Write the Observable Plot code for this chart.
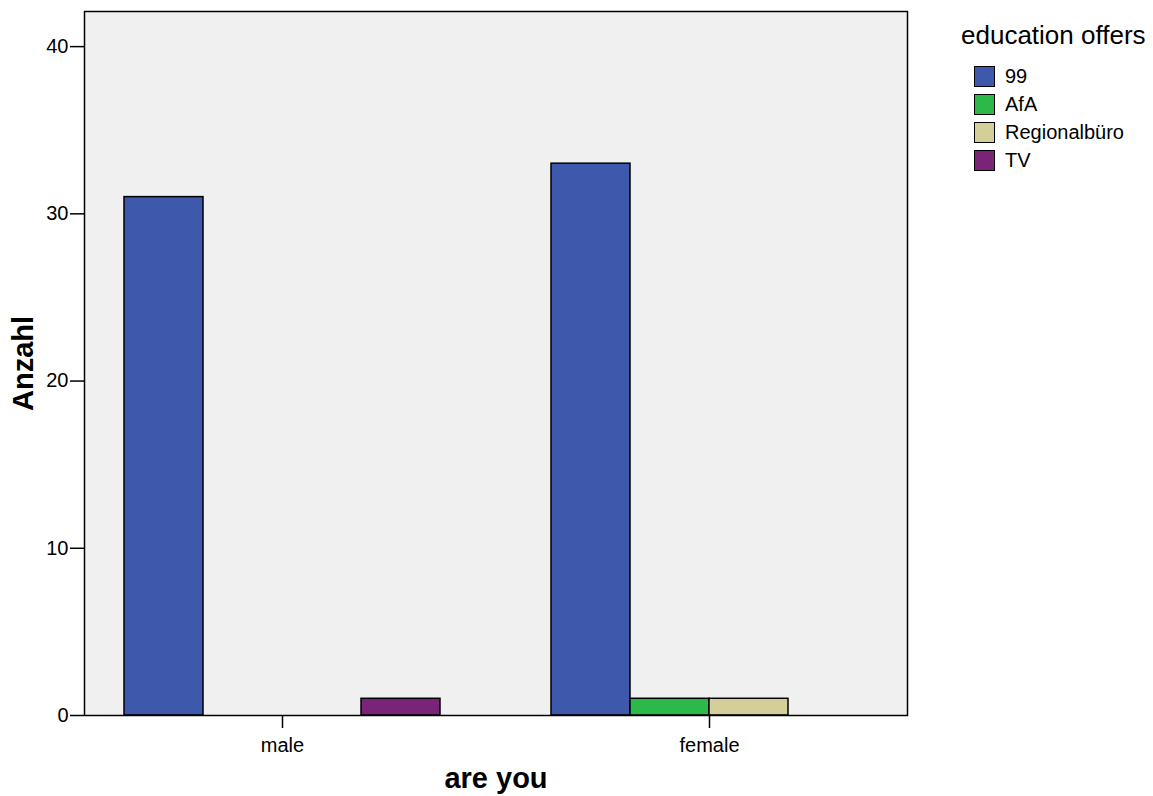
<!DOCTYPE html>
<html>
<head>
<meta charset="utf-8">
<script src="https://cdn.jsdelivr.net/npm/d3@7"></script>
<script src="https://cdn.jsdelivr.net/npm/@observablehq/plot@0.6"></script>
<style>
  html, body { margin: 0; padding: 0; background: #fff; }
  body { font-family: "Liberation Sans", Arial, sans-serif; }
  #wrap { position: relative; width: 1153px; height: 796px; }
  #legend { position: absolute; left: 961px; top: 20px; color: #000; }
  #legend .title { font-size: 26px; line-height: 30px; margin-bottom: 12px; white-space: nowrap; }
  #legend .item { display: flex; align-items: center; height: 28px; margin-left: 13px; font-size: 20px; white-space: nowrap; }
  #legend .sw { width: 19px; height: 19px; border: 1.5px solid #000; margin-right: 10px; box-sizing: content-box; }
  svg [aria-label="y-axis label"] text, svg [aria-label="fx-axis label"] text,
  svg g[aria-label="y-axis label"], svg g[aria-label="fx-axis label"] { font-weight: bold; font-size: 29px; }
</style>
</head>
<body>
<div id="wrap"></div>
<script>
const genders = ["male", "female"];
const series = ["99", "AfA", "Regionalbüro", "TV"];
const maleCounts = [31, 0, 0, 1];
const femaleCounts = [33, 1, 1, 0];
const colors = ["#3E58AC", "#2DB84A", "#D4CF99", "#7A2478"];
const yTicks = [0, 10, 20, 30, 40];
const legendTitle = "education offers";
const xLabel = "are you";
const yLabel = "Anzahl";

const rows = [];
series.forEach((s, i) => {
  rows.push({gender: "male", series: s, count: maleCounts[i]});
  rows.push({gender: "female", series: s, count: femaleCounts[i]});
});
const bars = rows.filter(d => d.count > 0);

const chart = Plot.plot({
  width: 1153,
  height: 796,
  marginTop: 11,
  marginBottom: 81,
  marginLeft: 83,
  marginRight: 245,
  style: {fontFamily: "'Liberation Sans', Arial, sans-serif", fontSize: "20px", color: "#000", background: "transparent"},
  fx: {domain: genders, paddingInner: 0.0724, paddingOuter: 0},
  x: {domain: series, paddingInner: 0, paddingOuter: 0.505, axis: null},
  y: {domain: [0, 42.1]},
  color: {domain: series, range: colors},
  marks: [
    Plot.frame({facet: "super", fill: "#F0F0F0", stroke: "none"}),
    Plot.barY(bars, {fx: "gender", x: "series", y: "count", fill: "series", stroke: "#000", strokeWidth: 1.5}),
    Plot.frame({facet: "super", stroke: "#000", strokeWidth: 1.5}),
    Plot.axisY({ticks: yTicks, tickSize: 14, tickPadding: 2, fontSize: 20, strokeWidth: 1.5,
      label: yLabel, labelAnchor: "center", labelOffset: 72, labelArrow: "none"}),
    Plot.axisFx({anchor: "bottom", tickSize: 13, tickPadding: 9, fontSize: 20, strokeWidth: 1.5,
      label: xLabel, labelAnchor: "center", labelOffset: 72, labelArrow: "none"})
  ]
});
document.getElementById("wrap").appendChild(chart);

const legend = document.createElement("div");
legend.id = "legend";
const t = document.createElement("div");
t.className = "title";
t.textContent = legendTitle;
legend.appendChild(t);
series.forEach((s, i) => {
  const it = document.createElement("div");
  it.className = "item";
  const sw = document.createElement("div");
  sw.className = "sw";
  sw.style.background = colors[i];
  const lab = document.createElement("span");
  lab.textContent = s;
  it.appendChild(sw);
  it.appendChild(lab);
  legend.appendChild(it);
});
document.getElementById("wrap").appendChild(legend);
</script>
</body>
</html>
